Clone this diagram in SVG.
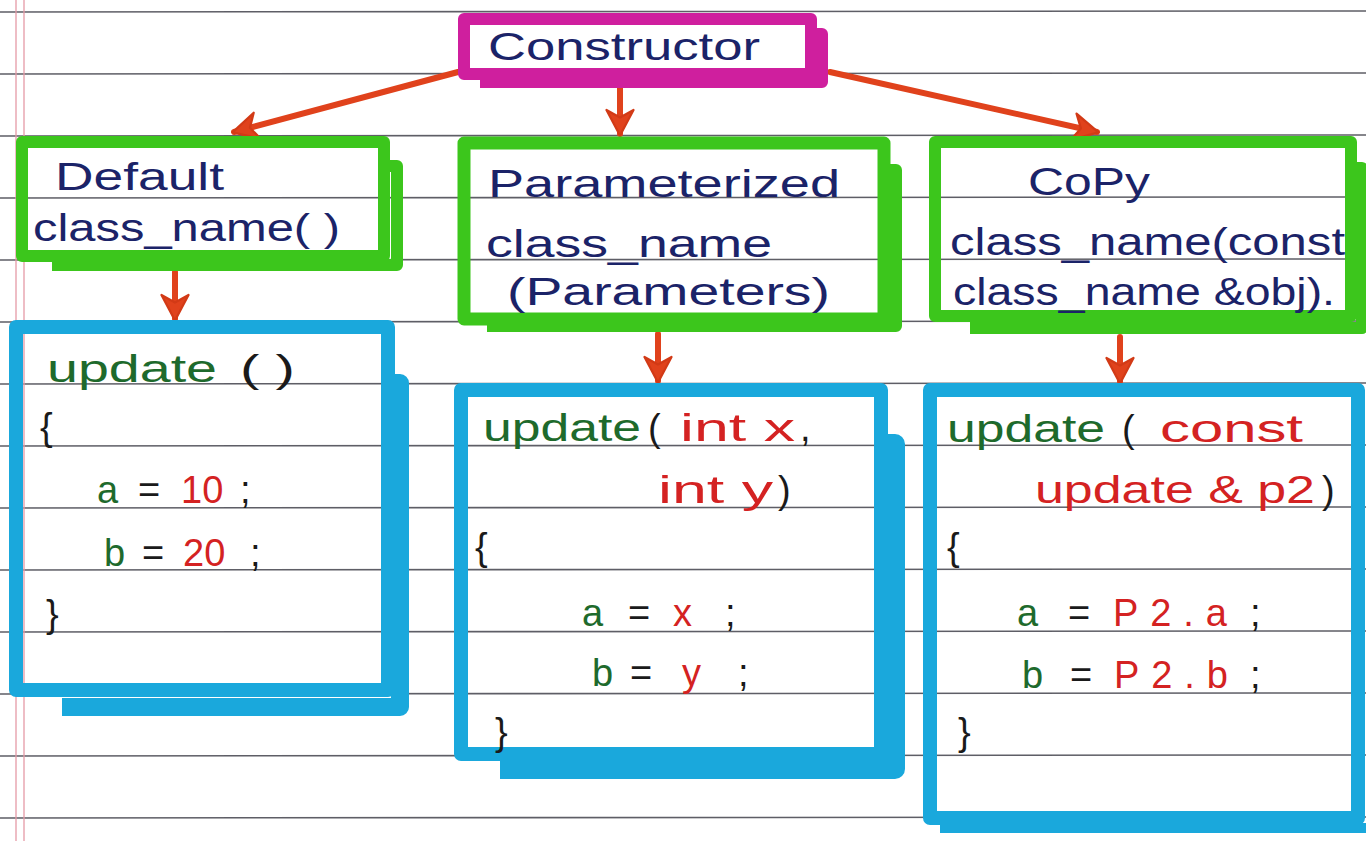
<svg xmlns="http://www.w3.org/2000/svg" width="1366" height="841" viewBox="0 0 1366 841">
<defs>
<style>
.rule{stroke:#5e5e66;stroke-width:1.6}
.margin{stroke:#e59aa6;stroke-width:1.3}
.mag{fill:none;stroke:#cf1f9e;stroke-linejoin:round}
.grn{fill:none;stroke:#3cc61c;stroke-linejoin:round}
.blu{fill:none;stroke:#1aa8dc;stroke-linejoin:round}
.arr{fill:none;stroke:#e0421c;stroke-width:6;stroke-linecap:round}
text{font-family:"Liberation Sans","DejaVu Sans",sans-serif;font-size:38px}
.nv{fill:#1b2368}
.gt{fill:#1e6a2c}
.rt{fill:#d42222}
.bk{fill:#1a1a1a}
</style>
<marker id="ah" viewBox="0 0 20 20" refX="18" refY="10" markerWidth="30" markerHeight="30" markerUnits="userSpaceOnUse" orient="auto">
<path d="M2,1 L19,10 L2,19 L7,10 Z" fill="#e0421c" stroke="#d23a16" stroke-width="1.5" stroke-linejoin="round"/>
</marker>
</defs>
<rect width="1366" height="841" fill="#ffffff"/>
<g id="paper">
<line class="rule" x1="0" y1="12" x2="1366" y2="11"/>
<line class="rule" x1="0" y1="74" x2="1366" y2="73"/>
<line class="rule" x1="0" y1="136" x2="1366" y2="135"/>
<line class="rule" x1="0" y1="198" x2="1366" y2="197"/>
<line class="rule" x1="0" y1="260" x2="1366" y2="259"/>
<line class="rule" x1="0" y1="322" x2="1366" y2="321"/>
<line class="rule" x1="0" y1="384" x2="1366" y2="383"/>
<line class="rule" x1="0" y1="446" x2="1366" y2="445"/>
<line class="rule" x1="0" y1="508" x2="1366" y2="507"/>
<line class="rule" x1="0" y1="570" x2="1366" y2="569"/>
<line class="rule" x1="0" y1="632" x2="1366" y2="631"/>
<line class="rule" x1="0" y1="694" x2="1366" y2="693"/>
<line class="rule" x1="0" y1="756" x2="1366" y2="755"/>
<line class="rule" x1="0" y1="818" x2="1366" y2="817"/>
<line class="margin" x1="16" y1="0" x2="16" y2="841"/>
<line class="margin" x1="24" y1="0" x2="24" y2="841"/>
</g>
<g id="connectors">
<line class="arr" x1="458" y1="72" x2="234" y2="132" marker-end="url(#ah)"/>
<line class="arr" x1="620" y1="82" x2="620" y2="134" marker-end="url(#ah)"/>
<line class="arr" x1="830" y1="72" x2="1097" y2="132" marker-end="url(#ah)"/>
<line class="arr" x1="175" y1="272" x2="175" y2="319" marker-end="url(#ah)"/>
<line class="arr" x1="658" y1="334" x2="658" y2="381" marker-end="url(#ah)"/>
<line class="arr" x1="1120" y1="337" x2="1120" y2="382" marker-end="url(#ah)"/>
</g>
<g id="constructor">
<rect class="mag" x="464" y="19" width="347" height="55" stroke-width="12"/>
<polyline class="mag" points="812,34 822,34 822,82 480,82" stroke-width="12"/>
<text class="nv" x="488" y="60" font-size="40" textLength="272" lengthAdjust="spacingAndGlyphs">Constructor</text>
</g>
<g id="default">
<rect class="grn" x="22" y="142" width="362" height="114" stroke-width="12"/>
<polyline class="grn" points="386,166 397,166 397,265 52,265" stroke-width="12"/>
<text class="nv" x="55" y="190" textLength="169" lengthAdjust="spacingAndGlyphs">Default</text>
<text class="nv" x="33" y="241" textLength="307" lengthAdjust="spacingAndGlyphs">class_name( )</text>
</g>
<g id="parameterized">
<rect class="grn" x="464" y="143" width="420" height="176" stroke-width="13"/>
<polyline class="grn" points="886,170 896,170 896,326 487,326" stroke-width="12"/>
<text class="nv" x="488" y="197" textLength="352" lengthAdjust="spacingAndGlyphs">Parameterized</text>
<text class="nv" x="486" y="257" textLength="286" lengthAdjust="spacingAndGlyphs">class_name</text>
<text class="nv" x="507" y="305" textLength="323" lengthAdjust="spacingAndGlyphs">(Parameters)</text>
</g>
<g id="copy">
<rect class="grn" x="935" y="142" width="416" height="174" stroke-width="12"/>
<polyline class="grn" points="1353,168 1362,168 1362,328 970,328" stroke-width="12"/>
<text class="nv" x="1028" y="195" textLength="122" lengthAdjust="spacingAndGlyphs">CoPy</text>
<text class="nv" x="950" y="255" textLength="395" lengthAdjust="spacingAndGlyphs">class_name(const</text>
<text class="nv" x="953" y="305" textLength="382" lengthAdjust="spacingAndGlyphs">class_name &amp;obj).</text>
</g>
<g id="default-body">
<rect class="blu" x="16" y="327" width="372" height="363" stroke-width="14"/>
<polyline class="blu" points="390,383 400,383 400,707 62,707" stroke-width="18"/>
<text class="gt" x="47" y="382" textLength="170" lengthAdjust="spacingAndGlyphs">update</text>
<text class="bk" x="240" y="382" textLength="55" lengthAdjust="spacingAndGlyphs">( )</text>
<text class="bk" x="40" y="440">{</text>
<text x="97" y="503"><tspan class="gt">a</tspan><tspan class="bk" x="138">=</tspan><tspan class="rt" x="181">10</tspan><tspan class="bk" x="240">;</tspan></text>
<text x="104" y="566"><tspan class="gt">b</tspan><tspan class="bk" x="142">=</tspan><tspan class="rt" x="183">20</tspan><tspan class="bk" x="250">;</tspan></text>
<text class="bk" x="46" y="627">}</text>
</g>
<g id="parameterized-body">
<rect class="blu" x="461" y="390" width="420" height="364" stroke-width="14"/>
<polyline class="blu" points="883,444 895,444 895,769 500,769" stroke-width="20"/>
<text class="gt" x="483" y="441" textLength="158" lengthAdjust="spacingAndGlyphs">update</text>
<text class="bk" x="648" y="441">(</text>
<text class="rt" x="680" y="441" textLength="115" lengthAdjust="spacingAndGlyphs">int x</text>
<text class="bk" x="800" y="441">,</text>
<text class="rt" x="658" y="503" textLength="115" lengthAdjust="spacingAndGlyphs">int y</text>
<text class="bk" x="778" y="503">)</text>
<text class="bk" x="475" y="560">{</text>
<text x="582" y="626"><tspan class="gt">a</tspan><tspan class="bk" x="628">=</tspan><tspan class="rt" x="673">x</tspan><tspan class="bk" x="725">;</tspan></text>
<text x="592" y="686"><tspan class="gt">b</tspan><tspan class="bk" x="630">=</tspan><tspan class="rt" x="682">y</tspan><tspan class="bk" x="738">;</tspan></text>
<text class="bk" x="495" y="745">}</text>
</g>
<g id="copy-body">
<rect class="blu" x="930" y="390" width="428" height="428" stroke-width="14"/>
<line class="blu" x1="940" y1="828" x2="1366" y2="828" stroke-width="10"/>
<text class="gt" x="947" y="442" textLength="158" lengthAdjust="spacingAndGlyphs">update</text>
<text class="bk" x="1122" y="442">(</text>
<text class="rt" x="1160" y="442" textLength="143" lengthAdjust="spacingAndGlyphs">const</text>
<text class="rt" x="1035" y="503" textLength="280" lengthAdjust="spacingAndGlyphs">update &amp; p2</text>
<text class="bk" x="1322" y="503">)</text>
<text class="bk" x="947" y="560">{</text>
<text x="1017" y="626"><tspan class="gt">a</tspan><tspan class="bk" x="1068">=</tspan><tspan class="rt" x="1113" textLength="114" lengthAdjust="spacing">P2.a</tspan><tspan class="bk" x="1250">;</tspan></text>
<text x="1022" y="688"><tspan class="gt">b</tspan><tspan class="bk" x="1070">=</tspan><tspan class="rt" x="1114" textLength="114" lengthAdjust="spacing">P2.b</tspan><tspan class="bk" x="1250">;</tspan></text>
<text class="bk" x="958" y="745">}</text>
</g>
</svg>
